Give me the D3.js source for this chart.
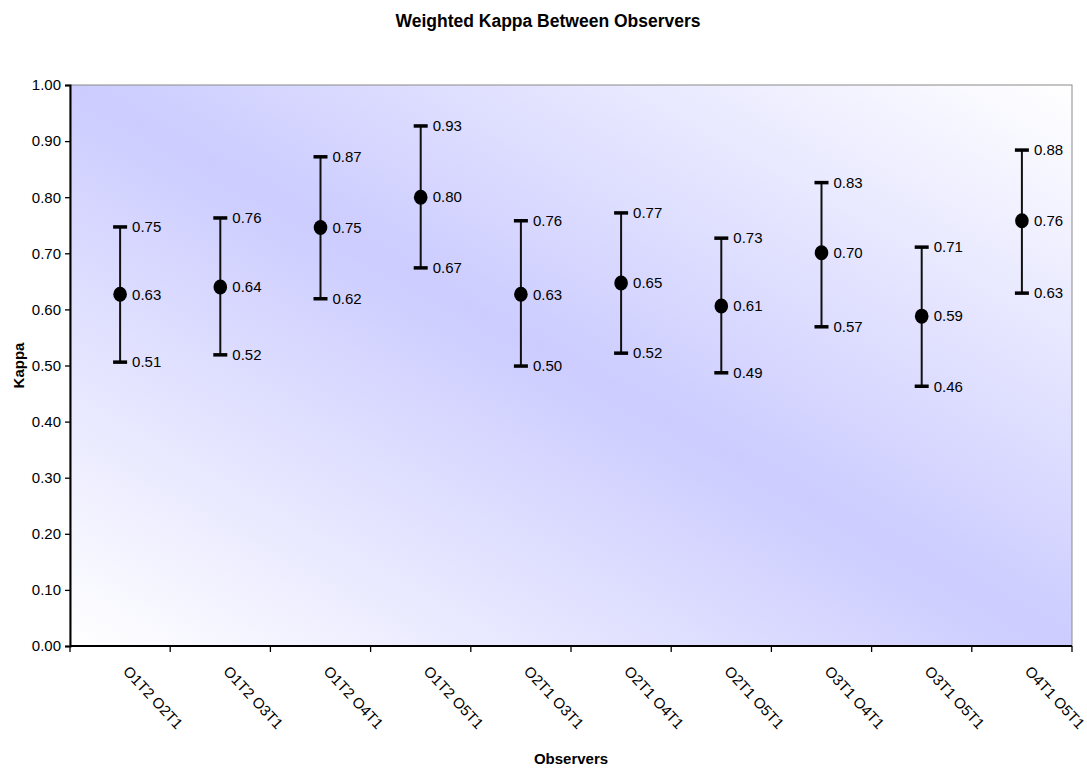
<!DOCTYPE html>
<html>
<head>
<meta charset="utf-8">
<script src="https://cdn.jsdelivr.net/npm/d3@7"></script>
<style>
  body { margin: 0; background: #fff; }
  text { font-family: "Liberation Sans", Arial, sans-serif; fill: #000; }
</style>
</head>
<body>
<div id="chart"></div>
<script>
/*
    Chart data
*/
var pairs = ["O1T2 O2T1", "O1T2 O3T1", "O1T2 O4T1", "O1T2 O5T1", "O2T1 O3T1",
             "O2T1 O4T1", "O2T1 O5T1", "O3T1 O4T1", "O3T1 O5T1", "O4T1 O5T1"];
var kappa = [0.627, 0.640, 0.746, 0.800, 0.627, 0.647, 0.606, 0.701, 0.588, 0.758];
var upper = [0.747, 0.763, 0.872, 0.927, 0.758, 0.772, 0.727, 0.826, 0.711, 0.884];
var lower = [0.506, 0.519, 0.619, 0.674, 0.499, 0.522, 0.487, 0.569, 0.463, 0.629];
var yTicks = [0, 0.1, 0.2, 0.3, 0.4, 0.5, 0.6, 0.7, 0.8, 0.9, 1.0];

var width = 1087;
var height = 768;
var margin = { top: 85, right: 15, bottom: 122, left: 70 };
var plotW = width - margin.left - margin.right;
var plotH = height - margin.top - margin.bottom;

var fmt = d3.format(".2f");

var svg = d3.select("#chart")
    .append("svg")
    .attr("width", width)
    .attr("height", height);

// diagonal white-blue-white fill of the plot area
var grad = svg.append("defs").append("linearGradient")
    .attr("id", "bg")
    .attr("x1", 0).attr("y1", 1)
    .attr("x2", 1).attr("y2", 0);
grad.append("stop").attr("offset", "0%").attr("stop-color", "#ffffff");
grad.append("stop").attr("offset", "50%").attr("stop-color", "#ccccff");
grad.append("stop").attr("offset", "100%").attr("stop-color", "#ffffff");

var x = d3.scaleBand()
    .domain(pairs)
    .range([0, plotW]);

var y = d3.scaleLinear()
    .domain([0, 1])
    .range([plotH, 0]);

var g = svg.append("g")
    .attr("transform", "translate(" + margin.left + "," + margin.top + ")");

g.append("rect")
    .attr("width", plotW)
    .attr("height", plotH)
    .attr("fill", "url(#bg)")
    .attr("stroke", "#8a8a8a")
    .attr("stroke-width", 1);

/* y axis */
var yAxis = g.append("g")
    .call(d3.axisLeft(y).tickValues(yTicks).tickFormat(fmt).tickSize(5).tickPadding(4));
yAxis.select(".domain").attr("stroke", "#000").attr("stroke-width", 2);
yAxis.selectAll(".tick line").attr("stroke", "#000").attr("stroke-width", 1.3);
yAxis.selectAll("text").style("font-size", "15px").attr("fill", "#000");

/* x axis - ticks on band edges */
var xAxis = g.append("g")
    .attr("transform", "translate(0," + plotH + ")");
xAxis.append("line")
    .attr("x1", 0).attr("x2", plotW)
    .attr("stroke", "#000").attr("stroke-width", 2);
xAxis.selectAll(".edge")
    .data(pairs.concat(["end"]))
    .enter().append("line")
    .attr("class", "edge")
    .attr("x1", function (d, i) { return i * x.bandwidth(); })
    .attr("x2", function (d, i) { return i * x.bandwidth(); })
    .attr("y1", 0).attr("y2", 6)
    .attr("stroke", "#000").attr("stroke-width", 1.3);
xAxis.selectAll(".lbl")
    .data(pairs)
    .enter().append("text")
    .attr("class", "lbl")
    .attr("transform", function (d) {
        return "translate(" + (x(d) + x.bandwidth() / 2 + 6) + ",22.5) rotate(47)";
    })
    .attr("dy", "0.35em")
    .style("font-size", "15px")
    .text(function (d) { return d; });

/* error bars */
var bars = g.selectAll(".bar")
    .data(pairs)
    .enter().append("g")
    .attr("class", "bar")
    .attr("transform", function (d) { return "translate(" + (x(d) + x.bandwidth() / 2) + ",0)"; });

bars.append("line")
    .attr("y1", function (d, i) { return y(upper[i]); })
    .attr("y2", function (d, i) { return y(lower[i]); })
    .attr("stroke", "#111").attr("stroke-width", 2);

bars.append("line")
    .attr("x1", -7).attr("x2", 7)
    .attr("y1", function (d, i) { return y(upper[i]); })
    .attr("y2", function (d, i) { return y(upper[i]); })
    .attr("stroke", "#000").attr("stroke-width", 3.5);

bars.append("line")
    .attr("x1", -7).attr("x2", 7)
    .attr("y1", function (d, i) { return y(lower[i]); })
    .attr("y2", function (d, i) { return y(lower[i]); })
    .attr("stroke", "#000").attr("stroke-width", 3.5);

bars.append("ellipse")
    .attr("cy", function (d, i) { return y(kappa[i]); })
    .attr("rx", 6.8).attr("ry", 7.5)
    .attr("fill", "#000");

// value labels
[upper, kappa, lower].forEach(function (arr) {
    bars.append("text")
        .attr("x", 12)
        .attr("y", function (d, i) { return y(arr[i]); })
        .attr("dy", "0.35em")
        .style("font-size", "15px")
        .text(function (d, i) { return fmt(arr[i]); });
});

/* titles */
svg.append("text")
    .attr("x", 548)
    .attr("y", 27)
    .attr("text-anchor", "middle")
    .style("font-size", "17.5px")
    .style("font-weight", "bold")
    .text("Weighted Kappa Between Observers");

svg.append("text")
    .attr("transform", "translate(24," + (margin.top + plotH / 2) + ") rotate(-90)")
    .attr("text-anchor", "middle")
    .style("font-size", "15px")
    .style("font-weight", "bold")
    .text("Kappa");

svg.append("text")
    .attr("x", margin.left + plotW / 2)
    .attr("y", 764)
    .attr("text-anchor", "middle")
    .style("font-size", "15px")
    .style("font-weight", "bold")
    .text("Observers");
</script>
</body>
</html>
